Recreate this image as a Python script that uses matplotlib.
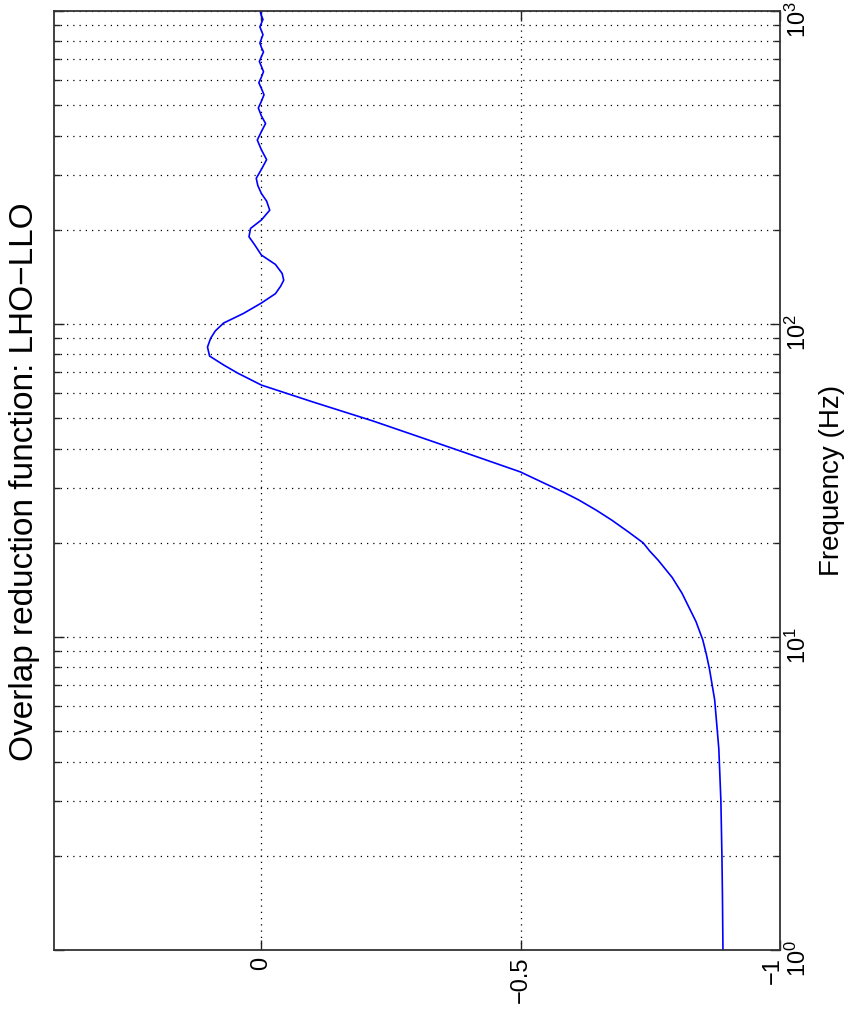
import matplotlib
matplotlib.use("Agg")
import matplotlib.pyplot as plt
import matplotlib.transforms as mtransforms
from matplotlib.ticker import LogLocator, NullFormatter

plt.rcParams['font.family'] = ['Liberation Sans', 'DejaVu Sans']

freq = [1, 1.5, 2, 3, 4.4, 6.3, 7.9, 8.8, 9.8, 11.2, 13.8, 15.5, 17.6, 18.8,
        20, 21.7, 23.6, 25.4, 27.4, 29, 30.8, 33.7, 39, 43.5, 49, 56.3, 63.8,
        69.7, 74, 79, 84.4, 90, 95, 100.7, 108, 116.7, 125, 132, 138, 145,
        155, 166, 178, 190, 202, 215, 231, 247, 261, 277, 292, 312, 335, 360,
        387, 412, 437, 462, 490, 515, 540, 565, 590, 615, 640, 665, 690, 715,
        740, 765, 790, 815, 840, 865, 890, 915, 940, 965, 990, 1000]
gamma = [-0.890, -0.889, -0.888, -0.886, -0.882, -0.874, -0.864, -0.858,
         -0.851, -0.838, -0.811, -0.792, -0.765, -0.749, -0.736, -0.707,
         -0.676, -0.646, -0.612, -0.583, -0.549, -0.499, -0.389, -0.306,
         -0.215, -0.100, 0.0, 0.046, 0.073, 0.100, 0.104, 0.098, 0.089,
         0.073, 0.035, 0.0, -0.027, -0.037, -0.043, -0.040, -0.027, 0.0,
         0.012, 0.024, 0.021, 0.0, -0.016, -0.010, 0.0, 0.007, 0.010, 0.0,
         -0.010, 0.0, 0.008, 0.0, -0.008, 0.0, 0.006, 0.0, -0.005, 0.0,
         0.005, 0.0, -0.004, 0.0, 0.004, 0.0, -0.004, 0.0, 0.003, 0.0,
         -0.003, 0.0, 0.003, 0.0, -0.003, 0.0, 0.002, 0.0]

gamma_ticks = [-1, -0.5, 0]
gamma_labels = ['\u22121', '\u22120.5', '0']

W, H = 848, 1015
fig = plt.figure(figsize=(W / 100, H / 100), dpi=100)
# whole plot is drawn turned by 90 degrees, like the printed landscape page
ax = fig.add_axes([54 / W, (H - 950) / H, (780 - 54) / W, (950 - 11) / H])

ax.plot(gamma, freq, color='#0000ff', lw=1.2)

ax.set_yscale('log')
ax.set_ylim(1, 1000)
ax.set_xlim(0.4, -1)
ax.yaxis.set_major_locator(LogLocator(base=10, numticks=10))
ax.yaxis.set_minor_locator(LogLocator(base=10, subs=range(2, 10), numticks=20))
ax.yaxis.set_minor_formatter(NullFormatter())

ax.set_xticks(gamma_ticks)
ax.set_xticklabels(gamma_labels, rotation=90)

ax.tick_params(axis='both', which='both', direction='in', colors='#222222',
               left=True, right=True, top=True, bottom=True,
               labelleft=False, labelright=True)
ax.tick_params(axis='x', labelsize=17, pad=5)
ax.tick_params(axis='y', labelsize=17, labelrotation=90, pad=4)
ax.tick_params(axis='both', which='major', length=7, width=1)
ax.tick_params(axis='both', which='minor', length=4, width=1)
for lab in ax.get_yticklabels() + ax.get_xticklabels():
    lab.set_color('black')

# the -1 label sits a bit left of its tick so it clears the 10^0 label
lab_m1 = ax.get_xticklabels()[0]
lab_m1.set_transform(lab_m1.get_transform() +
                     mtransforms.ScaledTranslation(-7 / 100, 0, fig.dpi_scale_trans))

dots = dict(color='black', linestyle=(0, (1, 4)), linewidth=0.9)
ax.grid(True, which='major', axis='x', **dots)
ax.grid(True, which='both', axis='y', **dots)

for s in ax.spines.values():
    s.set_color('#333333')
    s.set_linewidth(1.3)

ax.yaxis.set_label_position('right')
ax.set_ylabel('Frequency (Hz)', fontsize=20, rotation=90, labelpad=6)

fig.text(25 / W, 1 - 482 / H, 'Overlap reduction function: LHO\u2212LLO',
         fontsize=24, rotation=90, ha='center', va='center')

fig.savefig('out.png', dpi=100)
